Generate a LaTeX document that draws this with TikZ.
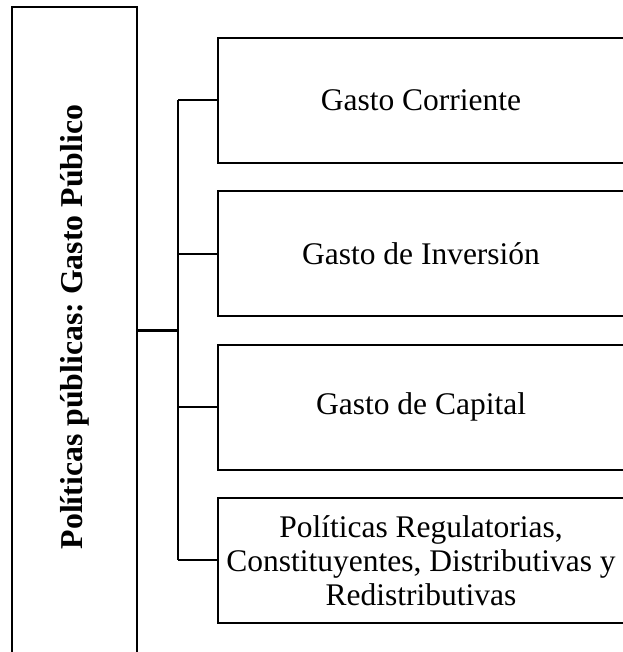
\documentclass[tikz,border=0pt]{standalone}
\usepackage{fontspec}
\setmainfont{Liberation Serif}
\frenchspacing
\usetikzlibrary{positioning}
\tikzset{
  cajagasto/.style = {rectangle, draw=black, line width=1.8pt, align=center, minimum width=406pt, minimum height=125pt, inner sep=2pt, font=\fontsize{31.5}{34}\selectfont},
  cajatitulo/.style = {rectangle, draw=black, line width=1.8pt, minimum width=125pt, minimum height=653pt},
  titulo/.style = {rotate=90, inner sep=0pt, font=\fontsize{31.8}{34}\selectfont\bfseries},
  conector/.style = {line width=2pt}
}

\begin{document}
\begin{tikzpicture}[x=1pt, y=-1pt, node distance=26.5pt]
\useasboundingbox (0,0) rectangle (622,652);
\node [cajatitulo] (politicas) at (74.5,333.5) {};
\node [titulo] (tituloTexto) at (74.5,327) {Políticas públicas: Gasto Público};

\node [cajagasto] (corriente) at (421,100.5) {Gasto Corriente};
\node [cajagasto, below=of corriente] (inversion) {Gasto de Inversión};
\node [cajagasto, below=of inversion] (capital) {Gasto de Capital};
\node [cajagasto, below=of capital] (regulatorias) {Políticas Regulatorias,\\Constituyentes, Distributivas y\\Redistributivas};

% corchete
\coordinate (corchete) at (178,330);
\draw [conector, line width=3pt] (politicas.east |- corchete) -- (corchete);
\draw [conector, line width=2.4pt] (corriente.west -| corchete) -- (regulatorias.west -| corchete);
\foreach \caja in {corriente,inversion,capital,regulatorias}
  \draw [conector] (\caja.west -| corchete) -- (\caja.west);
\end{tikzpicture}
\end{document}
